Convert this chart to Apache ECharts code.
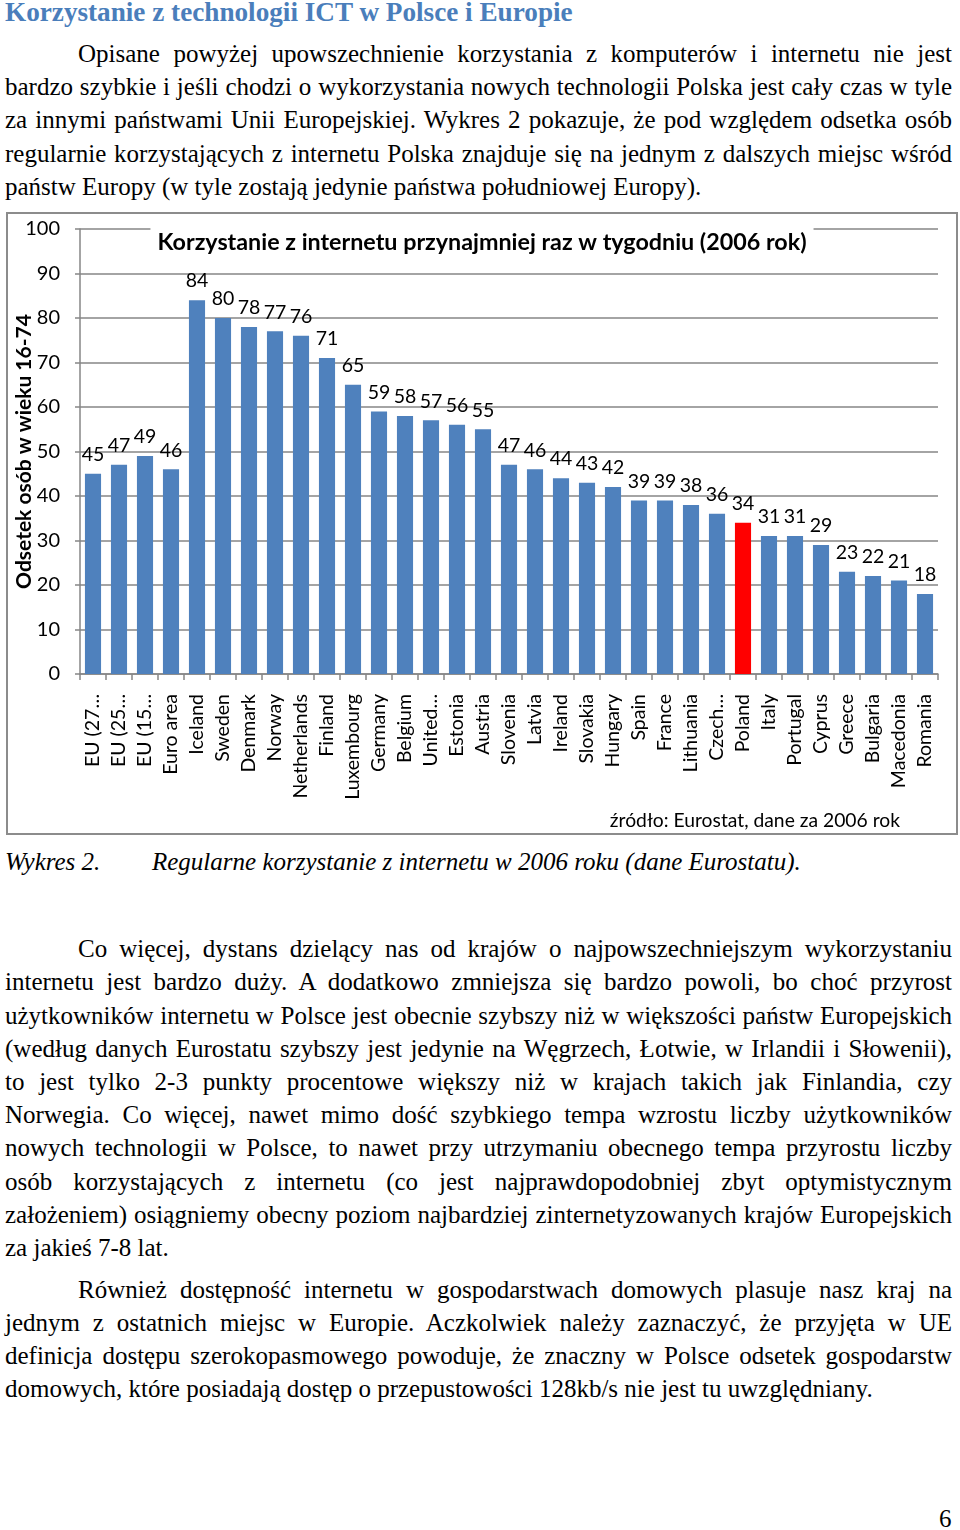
<!DOCTYPE html>
<html>
<head>
<meta charset="utf-8">
<script src="https://cdn.jsdelivr.net/npm/echarts@6/dist/echarts.min.js"></script>
<style>
  html, body { margin:0; padding:0; background:#fff; }
  body { width:960px; height:1530px; position:relative; overflow:hidden; }
  .h1 { position:absolute; left:5px; top:-4px; font:bold 27.2px "Liberation Serif", serif; line-height:33px; color:#4a7ebb; white-space:nowrap; }
  .ln { position:absolute; left:5px; width:947px; white-space:nowrap; text-align:justify; text-align-last:justify;
        font:25px "Liberation Serif", serif; line-height:33px; color:#000; }
  .ind { left:78px; width:874px; }
  .last { text-align-last:left; }
  .cap { position:absolute; top:845px; font:italic 25px "Liberation Serif", serif; line-height:33px; white-space:nowrap; }
  #box { position:absolute; left:6px; top:212px; width:948px; height:619px; border:2px solid #8c8c8c; }
  #chart { width:948px; height:619px; }
  .pg { position:absolute; left:939px; top:1502px; font:25px "Liberation Serif", serif; line-height:33px; }
</style>
</head>
<body>
<div class="h1">Korzystanie z technologii ICT w Polsce i Europie</div>

<div class="ln ind" style="top:37px">Opisane powyżej upowszechnienie korzystania z komputerów i internetu nie jest</div>
<div class="ln" style="top:70px">bardzo szybkie i jeśli chodzi o wykorzystania nowych technologii Polska jest cały czas w tyle</div>
<div class="ln" style="top:103px">za innymi państwami Unii Europejskiej. Wykres 2 pokazuje, że pod względem odsetka osób</div>
<div class="ln" style="top:137px">regularnie korzystających z internetu Polska znajduje się na jednym z dalszych miejsc wśród</div>
<div class="ln last" style="top:170px">państw Europy (w tyle zostają jedynie państwa południowej Europy).</div>

<div id="box"><div id="chart"></div></div>

<div class="cap" style="left:5px">Wykres 2.</div>
<div class="cap" style="left:152px">Regularne korzystanie z internetu w 2006 roku (dane Eurostatu).</div>

<div class="ln ind" style="top:932px">Co więcej, dystans dzielący nas od krajów o najpowszechniejszym wykorzystaniu</div>
<div class="ln" style="top:965px">internetu jest bardzo duży. A dodatkowo zmniejsza się bardzo powoli, bo choć przyrost</div>
<div class="ln" style="top:999px">użytkowników internetu w Polsce jest obecnie szybszy niż w większości państw Europejskich</div>
<div class="ln" style="top:1032px">(według danych Eurostatu szybszy jest jedynie na Węgrzech, Łotwie, w Irlandii i Słowenii),</div>
<div class="ln" style="top:1065px">to jest tylko 2-3 punkty procentowe większy niż w krajach takich jak Finlandia, czy</div>
<div class="ln" style="top:1098px">Norwegia. Co więcej, nawet mimo dość szybkiego tempa wzrostu liczby użytkowników</div>
<div class="ln" style="top:1131px">nowych technologii w Polsce, to nawet przy utrzymaniu obecnego tempa przyrostu liczby</div>
<div class="ln" style="top:1165px">osób korzystających z internetu (co jest najprawdopodobniej zbyt optymistycznym</div>
<div class="ln" style="top:1198px">założeniem) osiągniemy obecny poziom najbardziej zinternetyzowanych krajów Europejskich</div>
<div class="ln last" style="top:1231px">za jakieś 7-8 lat.</div>

<div class="ln ind" style="top:1273px">Również dostępność internetu w gospodarstwach domowych plasuje nasz kraj na</div>
<div class="ln" style="top:1306px">jednym z ostatnich miejsc w Europie. Aczkolwiek należy zaznaczyć, że przyjęta w UE</div>
<div class="ln" style="top:1339px">definicja dostępu szerokopasmowego powoduje, że znaczny w Polsce odsetek gospodarstw</div>
<div class="ln last" style="top:1372px">domowych, które posiadają dostęp o przepustowości 128kb/s nie jest tu uwzględniany.</div>

<div class="pg">6</div>

<script>
const categories = ["EU (27…","EU (25…","EU (15…","Euro area","Iceland","Sweden","Denmark","Norway",
  "Netherlands","Finland","Luxembourg","Germany","Belgium","United…","Estonia","Austria","Slovenia",
  "Latvia","Ireland","Slovakia","Hungary","Spain","France","Lithuania","Czech…","Poland","Italy",
  "Portugal","Cyprus","Greece","Bulgaria","Macedonia","Romania"];
const values = [45,47,49,46,84,80,78,77,76,71,65,59,58,57,56,55,47,46,44,43,42,39,39,38,36,34,31,31,29,23,22,21,18];
const highlighted = ["Poland"];
const yTicks = [0,10,20,30,40,50,60,70,80,90,100];
const chartTitle = "Korzystanie z internetu przynajmniej raz w tygodniu (2006 rok)";
const yAxisTitle = "Odsetek osób w wieku 16-74";
const sourceNote = "źródło: Eurostat, dane za 2006 rok";

const FONT = "Lato, 'Open Sans', sans-serif";
const chart = echarts.init(document.getElementById('chart'));
chart.setOption({
  animation: false,
  textStyle: { fontFamily: FONT },
  title: {
    text: chartTitle, left: 'center', top: 12,
    padding: [5, 7, 2, 7],
    backgroundColor: '#fff',
    textStyle: { fontFamily: FONT, fontWeight: 'bold', fontSize: 23.3, color: '#000' }
  },
  grid: { left: 72, right: 18, top: 15, bottom: 159, outerBoundsMode: 'none', containLabel: false },
  xAxis: {
    type: 'category', data: categories,
    axisLine: { lineStyle: { color: '#868686', width: 1.5 } },
    axisTick: { show: true, length: 6, alignWithLabel: false, lineStyle: { color: '#868686', width: 1.5 } },
    axisLabel: { rotate: 90, fontSize: 19.5, color: '#000', margin: 20, interval: 0, fontFamily: FONT }
  },
  yAxis: {
    type: 'value', min: 0, max: 100, interval: 10,
    name: yAxisTitle, nameLocation: 'middle', nameGap: 45, nameRotate: 90, nameMoveOverlap: false,
    nameTextStyle: { fontFamily: FONT, fontWeight: 'bold', fontSize: 21, color: '#000' },
    axisLine: { show: true, lineStyle: { color: '#868686', width: 1.5 } },
    axisTick: { show: true, length: 5, lineStyle: { color: '#868686', width: 1.5 } },
    axisLabel: { fontSize: 20, color: '#000', margin: 20, fontFamily: FONT,
      formatter: v => yTicks.includes(v) ? String(v) : '' },
    splitLine: { lineStyle: { color: '#868686', width: 1.5 } }
  },
  series: [{
    type: 'bar',
    barCategoryGap: '38%',
    data: values.map((v, i) => ({
      value: v,
      itemStyle: { color: highlighted.includes(categories[i]) ? '#ff0000' : '#4f81bd' }
    })),
    label: { show: true, position: 'top', distance: 9, fontSize: 19.5, color: '#000', fontFamily: FONT }
  }],
  graphic: [{
    type: 'text', right: 56, top: 597,
    style: { text: sourceNote, font: "19.3px " + FONT, fill: '#000' }
  }]
});
</script>
</body>
</html>
